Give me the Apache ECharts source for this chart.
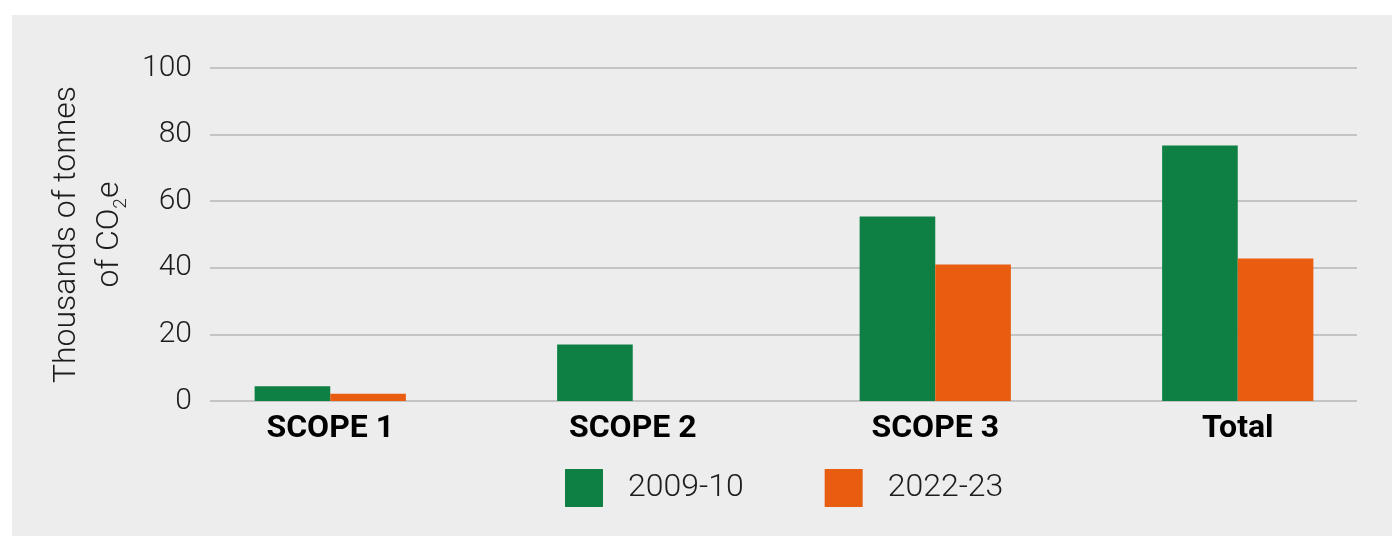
<!DOCTYPE html>
<html>
<head>
<meta charset="utf-8">
<script src="https://cdn.jsdelivr.net/npm/echarts@6/dist/echarts.min.js"></script>
<style>
    html, body { margin: 0; padding: 0; background: #ffffff; }
    .panel { position: absolute; left: 12px; top: 15px; width: 1380px; height: 521px; background: #ededed; }
    #chart { position: absolute; left: 0; top: 0; width: 1392px; height: 536px; }
</style>
</head>
<body>
<div class="panel"></div>
<div id="chart"></div>
<script>
var categories = ['SCOPE 1', 'SCOPE 2', 'SCOPE 3', 'Total']
var seriesNames = ['2009-10', '2022-23']
var values0910 = [4.4, 17.0, 55.4, 76.7]
var values2223 = [2.2, 0, 41.0, 42.8]
var yTicks = [0, 100, 20] // min, max, interval

var FONT = 'Roboto'
var TEXT = '#1c1c1c'

var chart = echarts.init(document.getElementById('chart'), null, { renderer: 'canvas' })

var option = {
    backgroundColor: 'transparent',
    textStyle: { fontFamily: FONT },
    legend: {
        data: seriesNames,
        left: 565,
        top: 469,
        padding: 0,
        icon: 'rect',
        itemWidth: 38,
        itemHeight: 38,
        itemGap: 81,
        textStyle: {
            fontFamily: FONT,
            fontSize: 32,
            fontWeight: 300,
            color: TEXT,
            padding: [0, 0, 0, 20]
        }
    },
    grid: [
        // gridlines + y axis
        { left: 210, right: 35, top: 68, bottom: 135 },
        // bars
        { left: 179, right: 3, top: 68, bottom: 135 }
    ],
    xAxis: [
        { gridIndex: 0, type: 'value', show: false },
        {
            gridIndex: 1,
            type: 'category',
            data: categories,
            axisLine: { show: false },
            axisTick: { show: false },
            axisLabel: {
                margin: 12,
                fontFamily: FONT,
                fontSize: 32,
                fontWeight: 'bold',
                color: '#000000'
            }
        }
    ],
    yAxis: [
        {
            gridIndex: 0,
            type: 'value',
            min: yTicks[0],
            max: yTicks[1],
            interval: yTicks[2],
            axisLine: { show: false },
            axisTick: { show: false },
            splitLine: { lineStyle: { color: '#c4c4c4', width: 2 } },
            axisLabel: {
                margin: 18,
                fontFamily: FONT,
                fontSize: 30,
                fontWeight: 300,
                color: TEXT
            },
            name: 'Thousands of tonnes\nof CO{sub|2}e',
            nameLocation: 'middle',
            nameRotate: 90,
            nameGap: 78,
            nameTextStyle: {
                fontFamily: FONT,
                fontSize: 32,
                fontWeight: 300,
                color: TEXT,
                lineHeight: 43,
                rich: {
                    sub: {
                        fontFamily: FONT,
                        fontSize: 19,
                        fontWeight: 300,
                        color: TEXT,
                        lineHeight: 43,
                        verticalAlign: 'bottom'
                    }
                }
            }
        },
        { gridIndex: 1, type: 'value', min: yTicks[0], max: yTicks[1], show: false }
    ],
    series: [
        {
            name: seriesNames[0],
            type: 'bar',
            xAxisIndex: 1,
            yAxisIndex: 1,
            data: values0910,
            barGap: '0%',
            barCategoryGap: '50%',
            itemStyle: { color: '#0f8044' }
        },
        {
            name: seriesNames[1],
            type: 'bar',
            xAxisIndex: 1,
            yAxisIndex: 1,
            data: values2223,
            barGap: '0%',
            barCategoryGap: '50%',
            itemStyle: { color: '#e95d11' }
        }
    ]
}
chart.setOption(option)
</script>
</body>
</html>
